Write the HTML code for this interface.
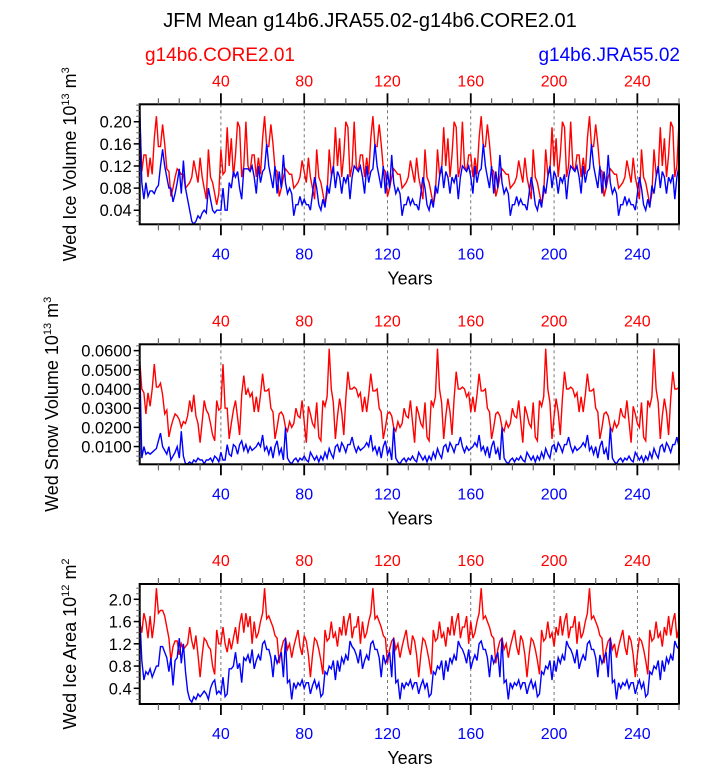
<!DOCTYPE html>
<html><head><meta charset="utf-8"><style>
body{margin:0;background:#fff}
svg text{font-family:"Liberation Sans",Arial,sans-serif}
</style></head><body>
<svg id="chart" width="723" height="765" xmlns="http://www.w3.org/2000/svg">
<text x="370" y="27" font-size="20" text-anchor="middle">JFM Mean g14b6.JRA55.02-g14b6.CORE2.01</text>
<text x="145" y="61" font-size="19" fill="#f00">g14b6.CORE2.01</text>
<text x="680" y="61" font-size="19" fill="#00f" text-anchor="end">g14b6.JRA55.02</text>
</svg>
<script>
const xTicks=[40,80,120,160,200,240];
const blk1RedIce=[0.21,0.11,0.14,0.14,0.10,0.135,0.105,0.17,0.21,0.155,0.155,0.195,0.16,0.115,0.11,0.065,0.08,0.10,0.115,0.11,0.105,0.105,0.08,0.085,0.09,0.10,0.13,0.11,0.09,0.135,0.10,0.08,0.06,0.15,0.10,0.09,0.07,0.05,0.07,0.15,0.105,0.11,0.19,0.12,0.17,0.10,0.14,0.20,0.19,0.10,0.12,0.20];
const cycRedIce=[0.12,0.11,0.14,0.14,0.10,0.135,0.105,0.17,0.21,0.155,0.155,0.195,0.16,0.115,0.11,0.065,0.08,0.10,0.115,0.11,0.105,0.105,0.08,0.085,0.09,0.10,0.13,0.11,0.09,0.135,0.10,0.08,0.06,0.15,0.10,0.09,0.07,0.05,0.07,0.15,0.105,0.11,0.19,0.12,0.17,0.10,0.14,0.20,0.19,0.10,0.12,0.20];
const blk1BlueIce=[0.23,0.09,0.06,0.09,0.065,0.075,0.075,0.07,0.08,0.085,0.12,0.15,0.12,0.10,0.08,0.08,0.055,0.07,0.09,0.115,0.07,0.13,0.08,0.06,0.04,0.02,0.015,0.02,0.03,0.025,0.035,0.04,0.035,0.08,0.06,0.04,0.035,0.04,0.04,0.04,0.08,0.04,0.04,0.09,0.08,0.11,0.10,0.11,0.08,0.06,0.115,0.115];
const cycBlueIce=[0.115,0.11,0.12,0.10,0.07,0.12,0.09,0.11,0.115,0.16,0.12,0.10,0.08,0.12,0.07,0.11,0.08,0.14,0.09,0.07,0.08,0.07,0.03,0.05,0.05,0.065,0.05,0.06,0.05,0.05,0.04,0.07,0.10,0.08,0.05,0.04,0.06,0.045,0.085,0.07,0.10,0.12,0.08,0.11,0.10,0.07,0.10,0.09,0.105,0.06,0.10,0.12];
const blk1RedSnow=[0.055,0.04,0.038,0.027,0.038,0.031,0.04,0.053,0.041,0.041,0.043,0.037,0.027,0.029,0.015,0.02,0.024,0.027,0.026,0.024,0.02,0.023,0.022,0.026,0.034,0.028,0.037,0.026,0.022,0.012,0.023,0.034,0.029,0.027,0.022,0.016,0.013,0.034,0.029,0.03,0.053,0.03,0.03,0.014,0.022,0.029,0.034,0.025,0.016,0.037,0.047,0.037];
const cycRedSnow=[0.04,0.036,0.038,0.028,0.036,0.028,0.037,0.048,0.039,0.039,0.04,0.03,0.028,0.014,0.02,0.027,0.028,0.026,0.02,0.018,0.023,0.02,0.022,0.03,0.026,0.025,0.034,0.023,0.012,0.031,0.027,0.022,0.02,0.033,0.015,0.013,0.034,0.031,0.036,0.061,0.04,0.033,0.014,0.026,0.035,0.028,0.016,0.035,0.049,0.04,0.04,0.041];
const blk1BlueSnow=[0.055,0.004,0.01,0.006,0.007,0.006,0.007,0.008,0.009,0.013,0.017,0.01,0.008,0.006,0.01,0.003,0.005,0.007,0.01,0.004,0.018,0.005,0.001,0.001,0.002,0.001,0.003,0.002,0.004,0.003,0.003,0.001,0.003,0.003,0.004,0.002,0.005,0.004,0.002,0.007,0.003,0.003,0.011,0.006,0.005,0.011,0.01,0.006,0.011,0.013,0.008,0.011];
const cycBlueSnow=[0.007,0.01,0.008,0.009,0.01,0.012,0.01,0.016,0.008,0.01,0.006,0.01,0.004,0.01,0.013,0.006,0.009,0.003,0.02,0.004,0.002,0.001,0.003,0.004,0.002,0.004,0.003,0.005,0.003,0.002,0.007,0.005,0.003,0.005,0.002,0.005,0.003,0.007,0.004,0.009,0.006,0.004,0.01,0.011,0.007,0.012,0.01,0.007,0.011,0.011,0.015,0.01];
const blk1RedArea=[1.6,1.4,1.75,1.6,1.3,1.7,1.3,1.6,2.2,1.75,1.8,1.8,1.7,1.5,1.3,0.9,1.15,1.25,1.25,1.0,1.2,1.1,1.15,1.2,1.5,1.25,1.1,1.35,1.0,0.6,1.0,1.3,1.25,1.15,1.1,0.8,0.65,1.45,1.2,1.2,1.5,1.2,1.05,1.3,1.1,1.3,1.5,1.2,1.55,1.75,1.4,1.75];
const cycRedArea=[1.5,1.7,1.2,1.6,1.3,1.4,1.6,1.75,2.2,1.65,1.7,1.6,1.5,1.35,1.3,0.85,1.1,1.25,1.3,1.1,1.2,0.95,1.15,1.3,1.45,1.15,1.0,1.35,1.25,1.0,0.6,1.0,1.3,1.25,1.1,0.9,0.65,1.45,1.25,1.3,1.6,1.3,1.4,1.15,1.5,1.35,1.7,1.35,1.6,1.75,1.3,1.5];
const blk1BlueArea=[1.75,0.9,0.55,0.7,0.65,0.75,0.6,0.7,0.8,0.8,1.15,1.15,1.05,0.95,0.7,0.95,0.45,0.9,0.95,1.3,0.85,1.2,0.7,0.35,0.2,0.15,0.25,0.2,0.3,0.25,0.3,0.35,0.3,0.2,0.4,0.5,0.55,0.3,0.35,0.3,0.6,0.25,0.3,0.75,0.75,0.8,1.05,0.75,0.85,0.5,0.95,0.9];
const cycBlueArea=[1.0,0.85,1.1,0.75,0.9,1.0,0.9,1.2,1.25,1.1,1.1,0.95,0.6,1.0,0.85,0.95,1.05,0.6,1.3,0.5,0.55,0.2,0.5,0.4,0.5,0.45,0.55,0.4,0.5,0.5,0.3,0.45,0.55,0.4,0.5,0.25,0.3,0.7,0.65,0.8,0.75,0.9,0.55,0.9,0.7,0.95,0.85,1.0,0.9,1.25,1.15,1.1];
const redIce=blk1RedIce.concat(cycRedIce,cycRedIce,cycRedIce,cycRedIce);
const blueIce=blk1BlueIce.concat(cycBlueIce,cycBlueIce,cycBlueIce,cycBlueIce);
const redSnow=blk1RedSnow.concat(cycRedSnow,cycRedSnow,cycRedSnow,cycRedSnow);
const blueSnow=blk1BlueSnow.concat(cycBlueSnow,cycBlueSnow,cycBlueSnow,cycBlueSnow);
const redArea=blk1RedArea.concat(cycRedArea,cycRedArea,cycRedArea,cycRedArea);
const blueArea=blk1BlueArea.concat(cycBlueArea,cycBlueArea,cycBlueArea,cycBlueArea);
const iceTicks=[0.04,0.08,0.12,0.16,0.20];
const iceTickLabels=["0.04","0.08","0.12","0.16","0.20"];
const snowTicks=[0.01,0.02,0.03,0.04,0.05,0.06];
const snowTickLabels=["0.0100","0.0200","0.0300","0.0400","0.0500","0.0600"];
const areaTicks=[0.4,0.8,1.2,1.6,2.0];
const areaTickLabels=["0.4","0.8","1.2","1.6","2.0"];

const NS="http://www.w3.org/2000/svg";
const svg=document.getElementById('chart');
const X0=139.7,X1=679,XMIN=1,XMAX=260;
function xs(v){return X0+(v-XMIN)/(XMAX-XMIN)*(X1-X0);}
function mk(tag,attrs,parent){const e=document.createElementNS(NS,tag);for(const k in attrs)e.setAttribute(k,attrs[k]);(parent||svg).appendChild(e);return e;}

const panels=[
 {top:104.3,ymin:0.0146,ymax:0.2315,minor:0.01,ticks:iceTicks,labels:iceTickLabels,red:redIce,blue:blueIce,name:'ice-volume',t1:'Wed Ice Volume 10',sup:'13',t2:' m',sup2:'3'},
 {top:344.3,ymin:0.00075,ymax:0.0633,minor:0.0025,ticks:snowTicks,labels:snowTickLabels,red:redSnow,blue:blueSnow,name:'snow-volume',t1:'Wed Snow Volume 10',sup:'13',t2:' m',sup2:'3'},
 {top:584,ymin:0.118,ymax:2.275,minor:0.1,ticks:areaTicks,labels:areaTickLabels,red:redArea,blue:blueArea,name:'ice-area',t1:'Wed Ice Area 10',sup:'12',t2:' m',sup2:'2'}
];
panels.forEach((p,pi)=>{
 const H=120,bot=p.top+H;
 const ys=v=>bot-(v-p.ymin)/(p.ymax-p.ymin)*H;
 const g=mk('g',{});
 
 
 const cid='clip'+pi;
 const cp=mk('clipPath',{id:cid},g);mk('rect',{x:X0,y:p.top,width:X1-X0,height:H},cp);
 xTicks.forEach(t=>{const l=mk('line',{x1:xs(t),x2:xs(t),y1:p.top,y2:bot,stroke:'#555','stroke-width':0.8,'stroke-dasharray':'3,3'},g);
  
  });
 [[p.red,'#f00','core2-line'],[p.blue,'#00f','jra55-line']].forEach(([arr,c,n])=>{
  const d=arr.map((v,i)=>(i?'L':'M')+xs(i+1).toFixed(1)+','+ys(v).toFixed(1)).join('');
  const pa=mk('path',{d:d,fill:'none',stroke:c,'stroke-width':1.4,'clip-path':'url(#'+cid+')'},g);
  
  
 });
 const fr=mk('rect',{x:X0,y:p.top,width:X1-X0,height:H,fill:'none',stroke:'#000','stroke-width':2},g);
 
 
 for(let t=10;t<=260;t+=10){const maj=t%40===0;const L=maj?11:6;
  mk('line',{x1:xs(t),x2:xs(t),y1:p.top,y2:p.top-L,stroke:maj?'#000':'#666','stroke-width':maj?1.8:1.2},g);
  mk('line',{x1:xs(t),x2:xs(t),y1:bot,y2:bot+L,stroke:maj?'#000':'#666','stroke-width':maj?1.8:1.2},g);}
 xTicks.forEach(t=>{
  const a=mk('text',{x:xs(t),y:p.top-18,'font-size':16,fill:'#f00','text-anchor':'middle'},g);a.textContent=t;
  
  
  const b=mk('text',{x:xs(t),y:bot+35,'font-size':16,fill:'#00f','text-anchor':'middle'},g);b.textContent=t;
  
  
 });
 const xt=mk('text',{x:410,y:bot+60,'font-size':18,'text-anchor':'middle'},g);xt.textContent='Years';
 
 
 const n0=Math.ceil(p.ymin/p.minor),n1=Math.floor(p.ymax/p.minor);
 for(let k=n0;k<=n1;k++){const v=k*p.minor;mk('line',{x1:X0,x2:X0-3.5,y1:ys(v),y2:ys(v),stroke:'#666','stroke-width':1},g);}
 p.ticks.forEach((t,i)=>{
  mk('line',{x1:X0,x2:X0-6,y1:ys(t),y2:ys(t),stroke:'#000','stroke-width':1.5},g);
  const l=mk('text',{x:X0-8,y:ys(t)+6,'font-size':16.5,'text-anchor':'end'},g);l.textContent=p.labels[i];
  
  
 });
 const cy=p.top+H/2;const tx=pi===1?58:76;
 const yt=mk('text',{x:tx,y:cy,'font-size':18,'text-anchor':'middle',transform:'rotate(-90 '+tx+' '+cy+')'},g);
 
 
 yt.appendChild(document.createTextNode(p.t1));
 const s1=mk('tspan',{'font-size':11,dy:-7},yt);s1.textContent=p.sup;
 const s2=mk('tspan',{dy:7},yt);s2.textContent=p.t2;
 const s3=mk('tspan',{'font-size':11,dy:-7},yt);s3.textContent=p.sup2;
});
</script>
</body></html>
